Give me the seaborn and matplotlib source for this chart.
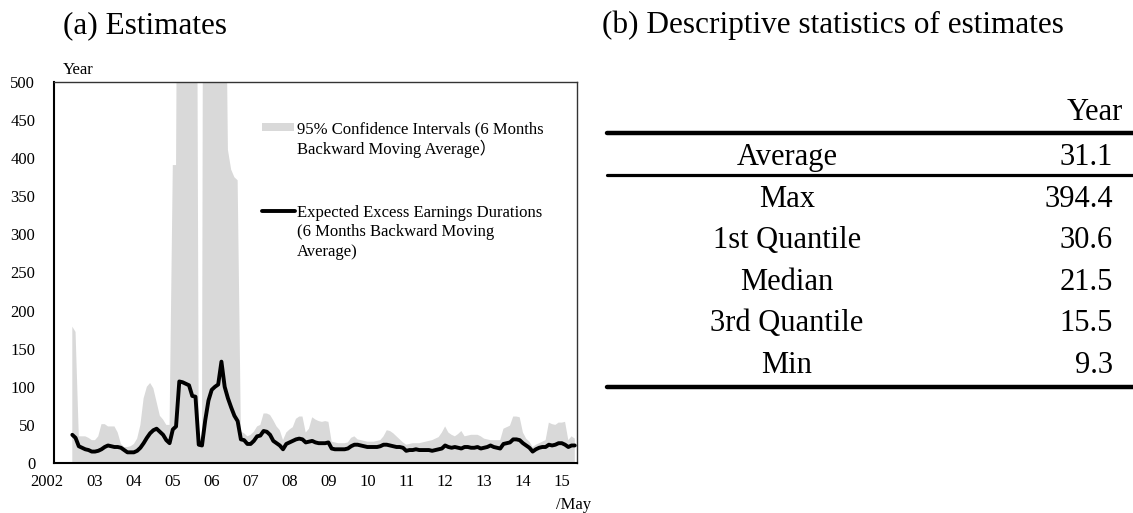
import numpy as np
import pandas as pd
import matplotlib
matplotlib.use("Agg")
import matplotlib.pyplot as plt
import seaborn as sns
from matplotlib.lines import Line2D
from matplotlib.patches import Rectangle
from matplotlib.transforms import ScaledTranslation

# ---------------- data ----------------
start_month = "2002-06-01"
n_months = 156  # 2002/06 .. 2015/05

duration_ma = [
    37, 33, 22, 20, 18, 17, 15, 15, 16, 18,
    21, 23, 22, 21, 21, 20, 17, 14, 14, 14,
    16, 20, 26, 33, 39, 43, 45, 41, 37, 30,
    26, 44, 48, 107, 106, 104, 102, 88, 87, 24,
    23, 56, 82, 96, 100, 103, 133, 100, 85, 73,
    62, 55, 31, 30, 25, 25, 29, 35, 36, 42,
    41, 37, 29, 26, 23, 18, 25, 27, 29, 31,
    32, 31, 27, 28, 29, 27, 26, 26, 26, 27,
    19, 18, 18, 18, 18, 19, 22, 24, 24, 23,
    22, 21, 21, 21, 21, 22, 24, 24, 23, 22,
    21, 21, 20, 16, 17, 17, 18, 17, 17, 17,
    17, 16, 17, 18, 19, 23, 21, 20, 21, 20,
    19, 21, 21, 20, 20, 21, 19, 20, 21, 23,
    21, 20, 19, 25, 26, 27, 31, 31, 30, 26,
    23, 20, 15, 18, 20, 21, 21, 24, 23, 24,
    26, 26, 24, 21, 23, 23,
]

ci_upper_ma = [
    179, 172, 35, 35, 35, 33, 30, 30, 35, 51,
    51, 48, 48, 48, 40, 25, 21, 21, 22, 25,
    32, 50, 85, 100, 105, 98, 80, 62, 57, 50,
    50, 391, 391, 1200, 1500, 1800, 1600, 1400, 1300, 28,
    27, 2000, 2200, 1900, 1700, 1500, 1400, 800, 411, 385,
    375, 371, 41, 39, 35, 37, 41, 48, 50, 65,
    65, 63, 56, 48, 43, 30, 40, 44, 47, 58,
    61, 61, 40, 45, 60, 57, 55, 54, 55, 54,
    28, 27, 26, 26, 26, 27, 33, 35, 31, 30,
    29, 28, 28, 28, 29, 30, 35, 43, 42, 39,
    35, 31, 27, 24, 25, 26, 26, 26, 27, 28,
    29, 30, 32, 34, 40, 48, 40, 37, 35, 38,
    42, 35, 36, 37, 37, 37, 35, 32, 31, 30,
    30, 30, 30, 45, 47, 49, 61, 61, 60, 40,
    32, 28, 21, 24, 26, 28, 30, 53, 51, 50,
    53, 53, 54, 30, 35, 32,
]

year_ticks = list(range(2002, 2016))
year_labels = ["2002", "03", "04", "05", "06", "07", "08", "09",
               "10", "11", "12", "13", "14", "15"]
y_ticks = [0, 50, 100, 150, 200, 250, 300, 350, 400, 450, 500]

legend_ci = ["95% Confidence Intervals (6 Months", "Backward Moving Average）"]
legend_line = ["Expected Excess Earnings Durations", "(6 Months Backward Moving", "Average)"]

stat_names = ["Average", "Max", "1st Quantile", "Median", "3rd Quantile", "Min"]
stat_values = ["31.1", "394.4", "30.6", "21.5", "15.5", "9.3"]

# ---------------- style ----------------
sns.set_theme(style="white")
plt.rcParams["font.family"] = ["Liberation Serif", "Noto Sans CJK JP", "DejaVu Sans"]
plt.rcParams["text.color"] = "black"
plt.rcParams["axes.labelcolor"] = "black"
plt.rcParams["xtick.color"] = "black"
plt.rcParams["ytick.color"] = "black"

W, H = 1133, 513
fig = plt.figure(figsize=(W / 100, H / 100), dpi=100)
fig.patch.set_facecolor("white")


def fx(px):
    return px / W


def fy(py):
    return 1 - py / H


ax = fig.add_axes([fx(54), fy(463), (577 - 54) / W, (463 - 82) / H])
ax.set_facecolor("white")

dates = pd.date_range(start_month, periods=n_months, freq="MS")
tpos = dates.year + (dates.month - 1) / 12.0
df = pd.DataFrame({"t": tpos, "dur": duration_ma, "ci": ci_upper_ma})

ax.fill_between(df["t"], 0, df["ci"], color="#d9d9d9", linewidth=0, zorder=1)
sns.lineplot(data=df, x="t", y="dur", ax=ax, color="black", linewidth=2.8,
             solid_joinstyle="round", solid_capstyle="round", zorder=3)

ax.set_xlim(2001.946, 2015.39)
ax.set_ylim(0, 500)
ax.set_xticks(year_ticks)
ax.set_xticklabels(year_labels)
ax.set_yticks(y_ticks)
ax.set_xlabel("")
ax.set_ylabel("")
ax.tick_params(axis="both", length=0, labelsize=12, colors="black", labelcolor="black")
ax.tick_params(axis="x", pad=8)
ax.tick_params(axis="y", pad=13.5)
first = ax.get_xticklabels()[0]
first.set_transform(first.get_transform() + ScaledTranslation(-9 / 100, 0, fig.dpi_scale_trans))

for side in ["top", "right"]:
    ax.spines[side].set_linewidth(1.0)
    ax.spines[side].set_color("#333333")
for side in ["left", "bottom"]:
    ax.spines[side].set_linewidth(1.5)
    ax.spines[side].set_color("black")
ax.grid(False)

# axis annotations
fig.text(fx(63), fy(74), "Year", fontsize=12, ha="left", va="baseline", color="black")
fig.text(fx(574), fy(509), "/May", fontsize=12, ha="center", va="baseline", color="black")

# legend (drawn in figure coords)
fig.add_artist(Rectangle((fx(262), fy(131)), (294 - 262) / W, 8 / H,
                         transform=fig.transFigure, facecolor="#d9d9d9", edgecolor="none"))
for i, s in enumerate(legend_ci):
    fig.text(fx(297), fy(133 + 20.5 * i), s, fontsize=12, ha="left", va="baseline", color="black")
fig.add_artist(Line2D([fx(262), fx(295)], [fy(211), fy(211)], transform=fig.transFigure,
                      color="black", linewidth=2.8))
for i, s in enumerate(legend_line):
    fig.text(fx(297), fy(217 + 19.5 * i), s, fontsize=12, ha="left", va="baseline", color="black")

# titles
fig.text(fx(63), fy(33), "(a) Estimates", fontsize=22.5, ha="left", va="baseline", color="black")
fig.text(fx(602), fy(33), "(b) Descriptive statistics of estimates", fontsize=22.5,
         ha="left", va="baseline", color="black")

# table
fig.text(fx(1123), fy(120), "Year", fontsize=22, ha="right", va="baseline", color="black")
for yline, lw in [(133, 3.2), (175, 2.3), (387, 3.2)]:
    fig.add_artist(Line2D([fx(607), fx(1133)], [fy(yline), fy(yline)],
                          transform=fig.transFigure, color="black", linewidth=lw))
for i, (nm, val) in enumerate(zip(stat_names, stat_values)):
    base = 165 + 41.6 * i
    fig.text(fx(787), fy(base), nm, fontsize=22, ha="center", va="baseline", color="black")
    fig.text(fx(1113), fy(base), val, fontsize=22, ha="right", va="baseline", color="black")

fig.savefig("out.png", dpi=100, facecolor="white")
